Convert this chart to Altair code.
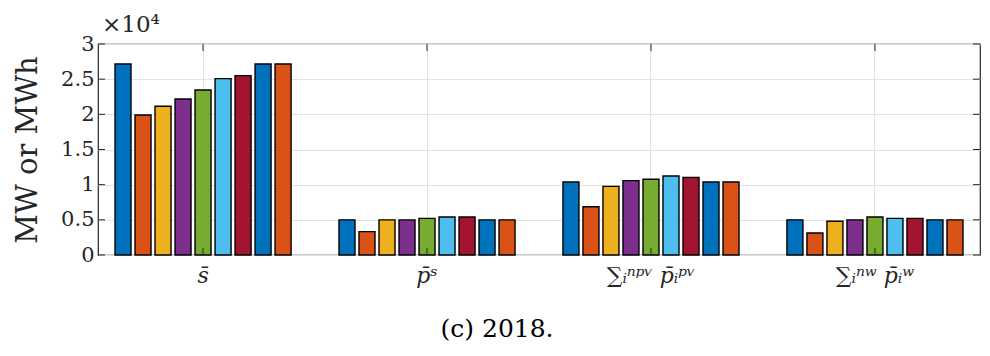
import altair as alt
import pandas as pd

# ---- data (values in MW / MWh) ----
groups = ["s̄", "p̄ˢ", "∑ᵢⁿᵖᵛ p̄ᵢᵖᵛ", "∑ᵢⁿʷ p̄ᵢʷ"]
series = ["1", "2", "3", "4", "5", "6", "7", "8", "9"]
s_bar = [27160, 19900, 21140, 22180, 23460, 25070, 25500, 27160, 27160]
p_s = [5000, 3320, 5000, 5000, 5210, 5400, 5400, 5000, 5000]
p_pv = [10380, 6870, 9760, 10570, 10760, 11230, 11040, 10380, 10380]
p_w = [5000, 3130, 4790, 5000, 5400, 5210, 5210, 5000, 5000]
colors = ["#0072BD", "#D95319", "#EDB120", "#7E2F8E", "#77AC30",
          "#4DBEEE", "#A2142F", "#0072BD", "#D95319"]
yticks = [0, 5000, 10000, 15000, 20000, 25000, 30000]
exponent_label = ["×10⁴"]
caption = "(c) 2018."

rows = []
for g, vals in zip(groups, [s_bar, p_s, p_pv, p_w]):
    for s, v in zip(series, vals):
        rows.append({"group": g, "series": s, "value": v})
df = pd.DataFrame(rows)

FONT = "DejaVu Serif"
W, H = 882, 211
INK = "#262626"

xscale = alt.Scale(domain=groups, paddingInner=0.196, paddingOuter=0.067)
yscale = alt.Scale(domain=[0, 30000], nice=False)

xaxis = alt.Axis(title=None, labelAngle=0, grid=True, ticks=False,
                 domain=False, labelFont=FONT, labelFontSize=22,
                 labelFontStyle="italic", labelPadding=10, labelColor=INK)
yaxis = alt.Axis(values=yticks, labelExpr="datum.value / 10000",
                 title="MW or MWh", titleFont=FONT, titleFontSize=29,
                 titleFontWeight="normal", titleColor=INK,
                 titlePadding=18, labelFont=FONT, labelFontSize=21,
                 labelColor=INK, labelPadding=4, ticks=False,
                 domain=False, grid=True)

X = alt.X("group:N", scale=xscale, sort=groups, axis=xaxis)
Y = alt.Y("value:Q", scale=yscale, axis=yaxis)

bars = alt.Chart(df).mark_bar(stroke="black", strokeWidth=1.4).encode(
    x=X,
    xOffset=alt.XOffset("series:N", sort=series,
                        scale=alt.Scale(domain=series, paddingInner=0.2,
                                        paddingOuter=0.1)),
    y=Y,
    color=alt.Color("series:N", scale=alt.Scale(domain=series, range=colors),
                    legend=None),
)

ytick_df = pd.DataFrame({"value": yticks})
yt_left = alt.Chart(ytick_df).mark_rule(color=INK, strokeWidth=1).encode(
    y=Y, x=alt.value(0), x2=alt.value(7))
yt_right = alt.Chart(ytick_df).mark_rule(color=INK, strokeWidth=1).encode(
    y=Y, x=alt.value(W - 7), x2=alt.value(W))

xtick_df = pd.DataFrame({"group": groups})
xt_top = alt.Chart(xtick_df).mark_rule(color=INK, strokeWidth=1).encode(
    x=X, y=alt.value(0), y2=alt.value(7))
xt_bot = alt.Chart(xtick_df).mark_rule(color=INK, strokeWidth=1).encode(
    x=X, y=alt.value(H - 7), y2=alt.value(H))

exp_text = alt.Chart(pd.DataFrame({"t": exponent_label})).mark_text(
    font=FONT, fontSize=23, align="left", baseline="alphabetic", color=INK
).encode(text="t:N", x=alt.value(4), y=alt.value(-12))

chart = alt.layer(bars, yt_left, yt_right, xt_top, xt_bot, exp_text).properties(
    width=W, height=H,
    padding={"left": 90, "top": 36, "right": 2, "bottom": 92},
    autosize=alt.AutoSizeParams(type="none"),
    title=alt.TitleParams(caption, orient="bottom", anchor="middle",
                          frame="bounds", font=FONT, fontSize=25,
                          fontWeight="normal", color="black", offset=31),
).configure(font=FONT).configure_view(stroke=INK, strokeWidth=1.2).configure_axis(
    gridColor="#e2e2e2", gridWidth=1, labelFont=FONT, titleFont=FONT
)

chart.save("out.html", embed_options={"renderer": "svg", "actions": False})
